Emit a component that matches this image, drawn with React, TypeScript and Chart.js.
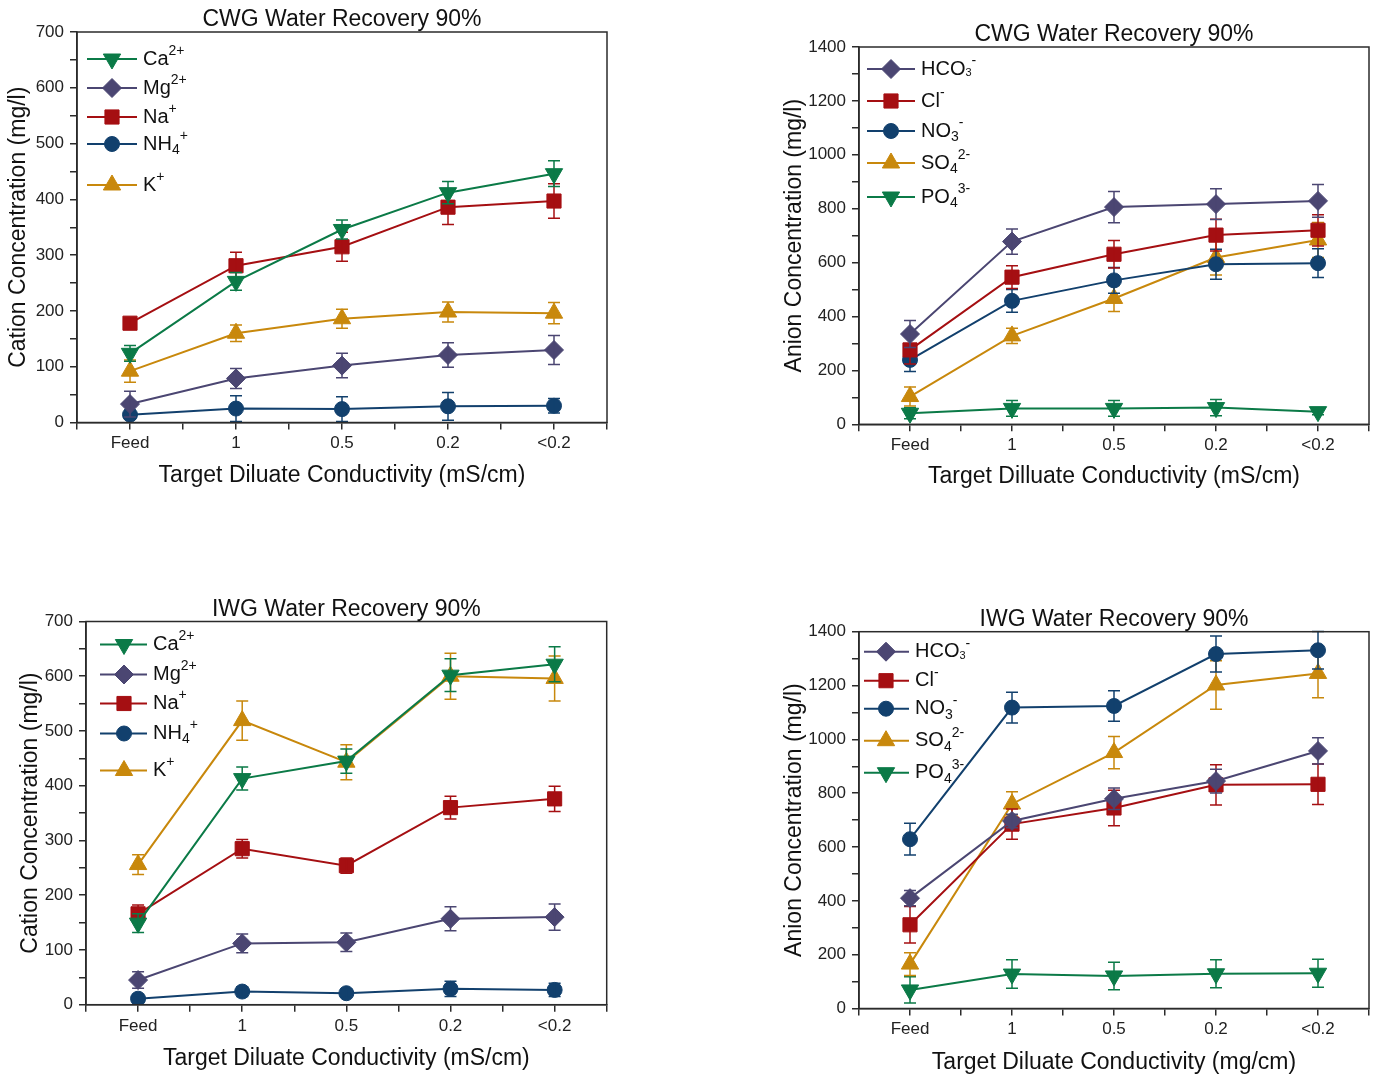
import React, { useEffect, useRef } from 'react';
import { Chart, registerables } from 'chart.js';

Chart.register(...registerables);

const FONT = "'Liberation Sans', Arial, Helvetica, sans-serif";

// ---------- categories / tick labels ----------
const xCategories = ['Feed', '1', '0.5', '0.2', '<0.2'];

// ---------- CWG cations ----------
const cwgCa = [124, 253, 346, 412, 446];
const cwgCaErr = [14, 16, 17, 20, 23];
const cwgMg = [33, 79, 102, 121, 130];
const cwgMgErr = [23, 18, 22, 22, 26];
const cwgNa = [178, 281, 315, 386, 397];
const cwgNaErr = [10, 24, 26, 31, 31];
const cwgNH4 = [14, 25, 24, 29, 30];
const cwgNH4Err = [8, 23, 22, 25, 13];
const cwgK = [92, 160, 186, 198, 196];
const cwgKErr = [20, 15, 17, 18, 19];

// ---------- CWG anions ----------
const cwgHCO3 = [335, 678, 806, 817, 829];
const cwgHCO3Err = [50, 47, 58, 57, 61];
const cwgCl = [276, 546, 631, 702, 720];
const cwgClErr = [52, 42, 51, 59, 58];
const cwgNO3 = [239, 458, 534, 594, 598];
const cwgNO3Err = [43, 42, 48, 56, 53];
const cwgSO4 = [103, 328, 467, 619, 684];
const cwgSO4Err = [35, 28, 48, 65, 65];
const cwgPO4 = [41, 59, 59, 62, 47];
const cwgPO4Err = [20, 29, 29, 30, 12];

// ---------- IWG cations ----------
const iwgCa = [149, 413, 445, 602, 622];
const iwgCaErr = [17, 21, 22, 30, 32];
const iwgMg = [45, 112, 114, 157, 160];
const iwgMgErr = [15, 17, 17, 22, 24];
const iwgNa = [166, 285, 254, 360, 376];
const iwgNaErr = [16, 17, 14, 21, 23];
const iwgNH4 = [11, 24, 21, 29, 27];
const iwgNH4Err = [6, 9, 7, 14, 12];
const iwgK = [256, 519, 443, 600, 596];
const iwgKErr = [18, 36, 32, 42, 41];

// ---------- IWG anions ----------
const iwgHCO3 = [410, 697, 779, 845, 957];
const iwgHCO3Err = [28, 25, 40, 44, 49];
const iwgCl = [311, 685, 745, 831, 833];
const iwgClErr = [68, 56, 66, 75, 75];
const iwgNO3 = [629, 1118, 1124, 1317, 1331];
const iwgNO3Err = [59, 57, 57, 67, 70];
const iwgSO4 = [165, 760, 951, 1202, 1245];
const iwgSO4Err = [42, 45, 60, 90, 90];
const iwgPO4 = [69, 128, 121, 129, 131];
const iwgPO4Err = [49, 53, 51, 52, 52];

// ---------- legend labels (0 normal, 1 superscript, -1 subscript, 2 tiny) ----------
type Part = [string, number];
const lblCa: Part[] = [['Ca', 0], ['2+', 1]];
const lblMg: Part[] = [['Mg', 0], ['2+', 1]];
const lblNa: Part[] = [['Na', 0], ['+', 1]];
const lblNH4: Part[] = [['NH', 0], ['4', -1], ['+', 1]];
const lblK: Part[] = [['K', 0], ['+', 1]];
const lblHCO3: Part[] = [['HCO', 0], ['3', 2], ['-', 1]];
const lblCl: Part[] = [['Cl', 0], ['-', 1]];
const lblNO3: Part[] = [['NO', 0], ['3', -1], ['-', 1]];
const lblSO4: Part[] = [['SO', 0], ['4', -1], ['2-', 1]];
const lblPO4: Part[] = [['PO', 0], ['4', -1], ['3-', 1]];

// ---------- styles ----------
const GREEN = '#0b7a47';
const PURPLE = '#4b4672';
const RED = '#a50f12';
const BLUE = '#12406d';
const ORANGE = '#c8880c';
const AXIS = '#2b2b2b';
const TITLE_SIZE = 23;

const RADIUS: Record<string, number> = { down: 10, triangle: 10, rectRot: 9.5, rect: 10, circle: 7.5 };

type Series = { name: string; parts: Part[]; values: number[]; errors: number[]; color: string; marker: string };

const cationSeries = (ca: number[], caE: number[], mg: number[], mgE: number[], na: number[], naE: number[], nh: number[], nhE: number[], k: number[], kE: number[]): Series[] => [
  { name: 'Ca2+', parts: lblCa, values: ca, errors: caE, color: GREEN, marker: 'down' },
  { name: 'Mg2+', parts: lblMg, values: mg, errors: mgE, color: PURPLE, marker: 'rectRot' },
  { name: 'Na+', parts: lblNa, values: na, errors: naE, color: RED, marker: 'rect' },
  { name: 'NH4+', parts: lblNH4, values: nh, errors: nhE, color: BLUE, marker: 'circle' },
  { name: 'K+', parts: lblK, values: k, errors: kE, color: ORANGE, marker: 'triangle' },
];

const anionSeries = (hc: number[], hcE: number[], cl: number[], clE: number[], no: number[], noE: number[], so: number[], soE: number[], po: number[], poE: number[]): Series[] => [
  { name: 'HCO3-', parts: lblHCO3, values: hc, errors: hcE, color: PURPLE, marker: 'rectRot' },
  { name: 'Cl-', parts: lblCl, values: cl, errors: clE, color: RED, marker: 'rect' },
  { name: 'NO3-', parts: lblNO3, values: no, errors: noE, color: BLUE, marker: 'circle' },
  { name: 'SO42-', parts: lblSO4, values: so, errors: soE, color: ORANGE, marker: 'triangle' },
  { name: 'PO43-', parts: lblPO4, values: po, errors: poE, color: GREEN, marker: 'down' },
];

type Spec = {
  left: number; top: number; width: number; height: number;
  area: { L: number; R: number; T: number; B: number };
  yMax: number; yStep: number; yLabelStep: number;
  title: string; xTitle: string; yTitle: string;
  yTitlePad: number; xTitlePad: number;
  legend: { line0: number; line1: number; marker: number; text: number; rows: number[] };
  series: Series[];
};

const panels: Spec[] = [
  {
    left: 0, top: 0, width: 690, height: 540,
    area: { L: 77, R: 607, T: 32, B: 422.5 },
    yMax: 700, yStep: 50, yLabelStep: 100,
    title: 'CWG Water Recovery 90%', xTitle: 'Target Diluate Conductivity (mS/cm)', yTitle: 'Cation Concentration (mg/l)',
    yTitlePad: 5.2, xTitlePad: 50.2,
    legend: { line0: 10, line1: 60, marker: 35, text: 66, rows: [27, 56, 85, 112, 153] },
    series: cationSeries(cwgCa, cwgCaErr, cwgMg, cwgMgErr, cwgNa, cwgNaErr, cwgNH4, cwgNH4Err, cwgK, cwgKErr),
  },
  {
    left: 700, top: 0, width: 680, height: 540,
    area: { L: 859, R: 1369.3, T: 47, B: 424.3 },
    yMax: 1400, yStep: 100, yLabelStep: 200,
    title: 'CWG Water Recovery 90%', xTitle: 'Target Dilluate Conductivity (mS/cm)', yTitle: 'Anion Concentration (mg/l)',
    yTitlePad: 81.2, xTitlePad: 49.2,
    legend: { line0: 8, line1: 56, marker: 32, text: 62, rows: [22, 54, 84, 116, 150] },
    series: anionSeries(cwgHCO3, cwgHCO3Err, cwgCl, cwgClErr, cwgNO3, cwgNO3Err, cwgSO4, cwgSO4Err, cwgPO4, cwgPO4Err),
  },
  {
    left: 0, top: 560, width: 690, height: 516,
    area: { L: 86, R: 606.7, T: 621.5, B: 1004.7 },
    yMax: 700, yStep: 50, yLabelStep: 100,
    title: 'IWG Water Recovery 90%', xTitle: 'Target Diluate Conductivity (mS/cm)', yTitle: 'Cation Concentration (mg/l)',
    yTitlePad: 17.2, xTitlePad: 3.2,
    legend: { line0: 14, line1: 61, marker: 38, text: 67, rows: [23, 53, 82, 112, 149] },
    series: cationSeries(iwgCa, iwgCaErr, iwgMg, iwgMgErr, iwgNa, iwgNaErr, iwgNH4, iwgNH4Err, iwgK, iwgKErr),
  },
  {
    left: 700, top: 560, width: 680, height: 516,
    area: { L: 859, R: 1369.5, T: 631.7, B: 1008.5 },
    yMax: 1400, yStep: 100, yLabelStep: 200,
    title: 'IWG Water Recovery 90%', xTitle: 'Target Diluate Conductivity (mg/cm)', yTitle: 'Anion Concentration (mg/l)',
    yTitlePad: 81.2, xTitlePad: 0,
    legend: { line0: 5, line1: 50, marker: 27, text: 56, rows: [20, 49, 77, 109, 141] },
    series: anionSeries(iwgHCO3, iwgHCO3Err, iwgCl, iwgClErr, iwgNO3, iwgNO3Err, iwgSO4, iwgSO4Err, iwgPO4, iwgPO4Err),
  },
];

function drawMarker(ctx: CanvasRenderingContext2D, marker: string, x: number, y: number, r: number) {
  ctx.beginPath();
  if (marker === 'circle') {
    ctx.arc(x, y, r, 0, Math.PI * 2);
  } else if (marker === 'rect') {
    const s = r * Math.SQRT1_2;
    ctx.rect(x - s, y - s, 2 * s, 2 * s);
  } else if (marker === 'rectRot') {
    ctx.moveTo(x - r, y);
    ctx.lineTo(x, y - r);
    ctx.lineTo(x + r, y);
    ctx.lineTo(x, y + r);
    ctx.closePath();
  } else {
    let rad = marker === 'down' ? Math.PI : 0;
    ctx.moveTo(x + Math.sin(rad) * r, y - Math.cos(rad) * r);
    rad += (2 * Math.PI) / 3;
    ctx.lineTo(x + Math.sin(rad) * r, y - Math.cos(rad) * r);
    rad += (2 * Math.PI) / 3;
    ctx.lineTo(x + Math.sin(rad) * r, y - Math.cos(rad) * r);
    ctx.closePath();
  }
  ctx.fill();
  ctx.stroke();
}

function drawRich(ctx: CanvasRenderingContext2D, parts: Part[], x: number, y: number) {
  let cx = x;
  for (const [t, k] of parts) {
    const size = k === 0 ? 20 : k === 2 ? 11 : 14;
    const dy = k === 1 ? -8 : k === -1 ? 6 : k === 2 ? 4 : 0;
    ctx.font = `${size}px ${FONT}`;
    ctx.fillText(t, cx, y + dy);
    cx += ctx.measureText(t).width;
  }
}

function buildConfig(spec: Spec): any {
  const padTop = spec.area.T - spec.top;
  const padRight = spec.left + spec.width - spec.area.R;
  const yAxisWidth = spec.area.L - spec.left;
  const xAxisHeight = spec.top + spec.height - spec.area.B;

  const datasets = spec.series.map((s) => ({
    label: s.name,
    data: s.values.map((v, i) => ({ x: i, y: v })),
    borderColor: s.color,
    backgroundColor: s.color,
    borderWidth: 2,
    tension: 0,
    fill: false,
    pointStyle: s.marker === 'down' ? 'triangle' : s.marker,
    pointRotation: s.marker === 'down' ? 180 : 0,
    pointRadius: RADIUS[s.marker],
    pointBorderWidth: 1,
    pointBackgroundColor: s.color,
    pointBorderColor: s.color,
  }));

  const decor = {
    id: 'decor',
    afterDatasetDraw(chart: any, args: any) {
      const s = spec.series[args.index];
      const yScale = chart.scales.y;
      const ctx = chart.ctx as CanvasRenderingContext2D;
      ctx.save();
      ctx.strokeStyle = s.color;
      ctx.lineWidth = 1.5;
      args.meta.data.forEach((pt: any, i: number) => {
        const v = s.values[i];
        const e = s.errors[i];
        const yt = yScale.getPixelForValue(v + e);
        const yb = yScale.getPixelForValue(v - e);
        ctx.beginPath();
        ctx.moveTo(pt.x, yt);
        ctx.lineTo(pt.x, yb);
        ctx.moveTo(pt.x - 6, yt);
        ctx.lineTo(pt.x + 6, yt);
        ctx.moveTo(pt.x - 6, yb);
        ctx.lineTo(pt.x + 6, yb);
        ctx.stroke();
      });
      ctx.restore();
    },
    afterDraw(chart: any) {
      const ctx = chart.ctx as CanvasRenderingContext2D;
      const a = chart.chartArea;
      ctx.save();
      // frame
      ctx.strokeStyle = AXIS;
      ctx.lineWidth = 1.5;
      ctx.strokeRect(a.left, a.top, a.right - a.left, a.bottom - a.top);
      // title
      ctx.fillStyle = '#111';
      ctx.font = `${TITLE_SIZE}px ${FONT}`;
      ctx.textAlign = 'center';
      ctx.textBaseline = 'middle';
      ctx.fillText(spec.title, (a.left + a.right) / 2, a.top - 12);
      // legend
      ctx.textAlign = 'left';
      spec.series.forEach((s, i) => {
        const y = a.top + spec.legend.rows[i];
        ctx.strokeStyle = s.color;
        ctx.fillStyle = s.color;
        ctx.lineWidth = 2;
        ctx.beginPath();
        ctx.moveTo(a.left + spec.legend.line0, y);
        ctx.lineTo(a.left + spec.legend.line1, y);
        ctx.stroke();
        ctx.lineWidth = 1;
        drawMarker(ctx, s.marker, a.left + spec.legend.marker, y, RADIUS[s.marker]);
        ctx.fillStyle = '#111';
        drawRich(ctx, s.parts, a.left + spec.legend.text, y);
      });
      ctx.restore();
    },
  };

  return {
    type: 'line',
    data: { datasets },
    options: {
      responsive: false,
      animation: false,
      events: [],
      layout: { padding: { top: padTop, right: padRight, left: 0, bottom: 0 } },
      plugins: {
        legend: { display: false },
        title: { display: false },
        tooltip: { enabled: false },
      },
      scales: {
        x: {
          type: 'linear',
          min: -0.5,
          max: 4.5,
          afterFit: (scale: any) => { scale.height = xAxisHeight; },
          ticks: {
            stepSize: 0.5,
            autoSkip: false,
            maxRotation: 0,
            maxTicksLimit: 100,
            padding: 4,
            color: '#222',
            font: { family: FONT, size: 17 },
            callback: (value: number) => {
              const r = Math.round(value);
              return Math.abs(value - r) < 1e-6 && r >= 0 && r < xCategories.length ? xCategories[r] : '';
            },
          },
          grid: { display: true, drawOnChartArea: false, drawTicks: true, tickLength: 7, color: AXIS, lineWidth: 1.5 },
          border: { display: true, color: AXIS, width: 1.5 },
          title: {
            display: true,
            text: spec.xTitle,
            color: '#111',
            font: { family: FONT, size: TITLE_SIZE, lineHeight: 1.2 },
            padding: { top: 0, bottom: spec.xTitlePad },
          },
        },
        y: {
          type: 'linear',
          min: 0,
          max: spec.yMax,
          afterFit: (scale: any) => { scale.width = yAxisWidth; },
          ticks: {
            stepSize: spec.yStep,
            autoSkip: false,
            maxTicksLimit: 100,
            padding: 6,
            color: '#222',
            font: { family: FONT, size: 17 },
            callback: (value: number) => (Math.round(value) % spec.yLabelStep === 0 ? String(Math.round(value)) : ''),
          },
          grid: { display: true, drawOnChartArea: false, drawTicks: true, tickLength: 7, color: AXIS, lineWidth: 1.5 },
          border: { display: true, color: AXIS, width: 1.5 },
          title: {
            display: true,
            text: spec.yTitle,
            color: '#111',
            font: { family: FONT, size: TITLE_SIZE, lineHeight: 1.2 },
            padding: { top: spec.yTitlePad, bottom: 0 },
          },
        },
      },
    },
    plugins: [decor],
  };
}

function Panel({ spec }: { spec: Spec }) {
  const ref = useRef<HTMLCanvasElement>(null);
  useEffect(() => {
    if (!ref.current) return;
    const chart = new Chart(ref.current, buildConfig(spec));
    return () => chart.destroy();
  }, [spec]);
  return (
    <canvas
      ref={ref}
      width={spec.width}
      height={spec.height}
      style={{ position: 'absolute', left: spec.left, top: spec.top, width: spec.width, height: spec.height }}
    />
  );
}

export default function App() {
  return (
    <div style={{ position: 'absolute', left: 0, top: 0, width: 1380, height: 1076, background: '#fff', overflow: 'hidden' }}>
      {panels.map((p, i) => (
        <Panel key={i} spec={p} />
      ))}
    </div>
  );
}
